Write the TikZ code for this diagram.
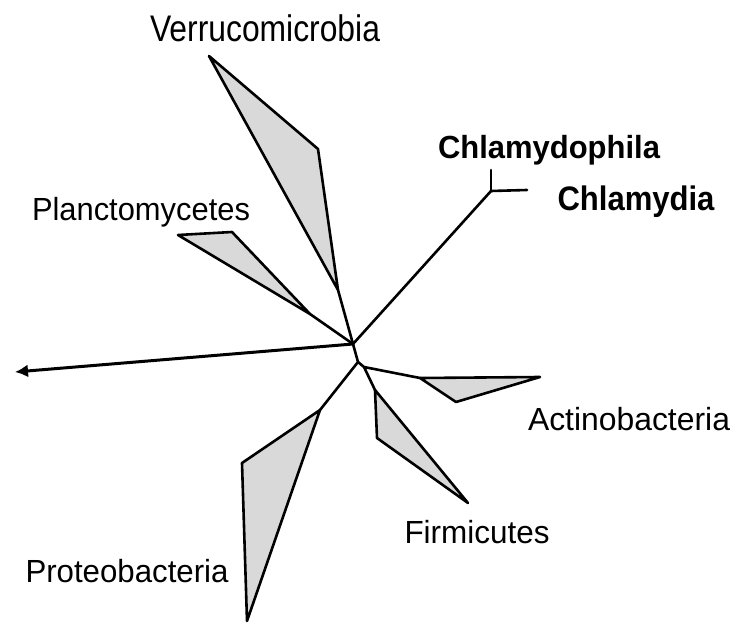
\documentclass[tikz,border=0pt]{standalone}
\usepackage{fontspec}
\setmainfont{Liberation Sans}
\usetikzlibrary{arrows.meta}
\definecolor{polyfill}{RGB}{217,217,217}
\newcommand{\lbl}[3]{\resizebox{#1pt}{\height}{\fontsize{#2}{#2}\selectfont #3}}
\newcommand{\blbl}[3]{\resizebox{#1pt}{\height}{\fontsize{#2}{#2}\selectfont\bfseries #3}}
\begin{document}
\begin{tikzpicture}[x=1pt,y=-1pt,
  branch/.style={line width=2.6pt, line join=round, line cap=round},
  clade/.style={draw, fill=polyfill, line width=2.6pt, line join=round},
  taxon/.style={anchor=base, inner sep=0pt}]
\useasboundingbox (0,0) rectangle (736,623);

% internal points
\coordinate (A) at (353,344);
\coordinate (B) at (358,362);
\coordinate (C) at (364,367);
\coordinate (J) at (491,191);
\coordinate (cpe) at (491,170);
\coordinate (che) at (527,190);
\coordinate (tip) at (15,372);

% Verrucomicrobia clade
\coordinate (V1) at (209,56);
\coordinate (V2) at (318,149);
\coordinate (V3) at (338,290);
% Planctomycetes clade
\coordinate (P1) at (178,235);
\coordinate (P2) at (232,232);
\coordinate (P3) at (310,314);
% Actinobacteria clade
\coordinate (AC1) at (420,378);
\coordinate (AC2) at (540,377);
\coordinate (AC3) at (456,402);
% Firmicutes clade
\coordinate (F1) at (375,390);
\coordinate (F2) at (377,438);
\coordinate (F3) at (468,503);
% Proteobacteria clade
\coordinate (PR1) at (320,410);
\coordinate (PR2) at (242,463);
\coordinate (PR3) at (247,621);

\draw[clade] (V1) -- (V2) -- (V3) -- cycle;
\draw[clade] (P1) -- (P2) -- (P3) -- cycle;
\draw[clade] (AC1) -- (AC2) -- (AC3) -- cycle;
\draw[clade] (F1) -- (F2) -- (F3) -- cycle;
\draw[clade] (PR1) -- (PR2) -- (PR3) -- cycle;

\draw[branch] (V3) -- (A);
\draw[branch] (P3) -- (A);
\draw[branch] (A) -- (J);
\draw[branch] (J) -- (cpe);
\draw[branch] (J) -- (che);
\draw[branch] (A) -- (B) -- (PR1);
\draw[branch] (B) -- (C) -- (AC1);
\draw[branch] (C) -- (F1);
\draw[line width=3pt, -{Latex[length=13pt,width=13pt]}] (A) -- (tip);

% labels
\node[taxon] (verr) at (265,42) {\lbl{230}{37}{Verrucomicrobia}};
\node[taxon] (planc) at (141,220) {\lbl{218}{32}{Planctomycetes}};
\node[taxon] (actino) at (629,430) {\lbl{202}{32}{Actinobacteria}};
\node[taxon] (firmi) at (477,543) {\lbl{145}{32}{Firmicutes}};
\node[taxon] (proteo) at (127,582) {\lbl{203}{32}{Proteobacteria}};
\node[taxon] (chlph) at (549,158) {\blbl{222}{32}{Chlamydophila}};
\node[taxon] (chl) at (636,210) {\blbl{157}{34}{Chlamydia}};
\end{tikzpicture}
\end{document}
